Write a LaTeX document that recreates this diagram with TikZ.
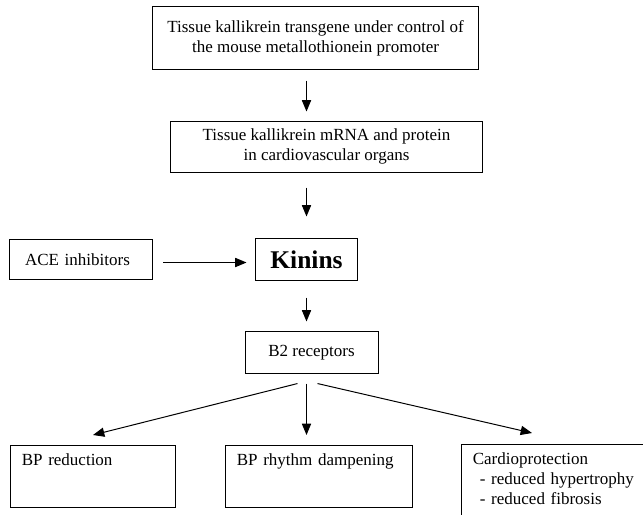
\documentclass[tikz,border=0pt]{standalone}
\usepackage{fontspec}
\setmainfont{Liberation Serif}
\usepackage{tikz}
\usetikzlibrary{arrows.meta, positioning, calc}

\begin{document}
\begin{tikzpicture}[
    x=0.706pt, y=-0.706pt,
    every node/.style={font=\fontsize{12}{14.1}\selectfont},
    box/.style={draw, line width=0.7pt, align=center, inner sep=2pt},
    effect/.style={draw, line width=0.7pt, anchor=north west, align=left, inner xsep=8pt, inner ysep=5pt, text height=9pt},
    flow/.style={-{Triangle[length=8pt, width=6.5pt]}, line width=0.7pt}
]
    \useasboundingbox (0,0) rectangle (643,514);

    % Boxes
    \node[box, minimum width=229.5pt, minimum height=43.8pt] (transgene) at (315.5,38)
        {Tissue kallikrein transgene under control of\\the mouse metallothionein promoter};
    \node[box, minimum width=219.6pt, minimum height=36pt] (mrna) at (326.5,146.5)
        {Tissue kallikrein mRNA and protein\\in cardiovascular organs};
    \node[box, text width=79pt, inner xsep=11.3pt, align=left, minimum height=28.9pt] (ace) at (81,259.5)
        {ACE inhibitors};
    \node[box, minimum width=72.7pt, minimum height=29pt, font=\fontsize{18}{21}\selectfont\bfseries] (kin) at (306.5,259.5)
        {Kinins};
    \node[box, minimum width=93.9pt, minimum height=29pt] (b2) at (311.5,352.5)
        {B2 receptors};

    % Effects
    \node[effect, text width=100.5pt, text depth=24.8pt] (bpred) at (10,445) {BP reduction};
    \node[effect, text width=116pt, text depth=24.8pt] (rhythm) at (225,445) {BP rhythm dampening};
    \node[effect, text width=125pt, text depth=37.5pt] (cardio) at (461,444)
        {Cardioprotection\\\hspace*{5pt}- reduced hypertrophy\\\hspace*{5pt}- reduced fibrosis};

    % Arrows
    \draw[flow] ($(transgene.south -| kin)+(0,11)$) -- ($(mrna.north -| kin)+(0,-9)$);
    \draw[flow] ($(mrna.south -| kin)+(0,15)$) -- ($(kin.north)+(0,-22)$);
    \draw[flow] ($(ace.east)+(10,3)$) -- ($(kin.west)+(-8,3)$);
    \draw[flow] ($(kin.south)+(0,17)$) -- ($(b2.north)+(-5,-10)$);

    % Branches
    \draw[flow] ($(b2.south)+(-14,10)$) -- ($(bpred.north)+(0,-10)$);
    \draw[flow] ($(b2.south -| kin)+(0,10)$) -- ($(rhythm.north -| kin)+(0,-10)$);
    \draw[flow] ($(b2.south)+(6,10)$) -- ($(cardio.north west)+(71,-11)$);
\end{tikzpicture}
\end{document}
